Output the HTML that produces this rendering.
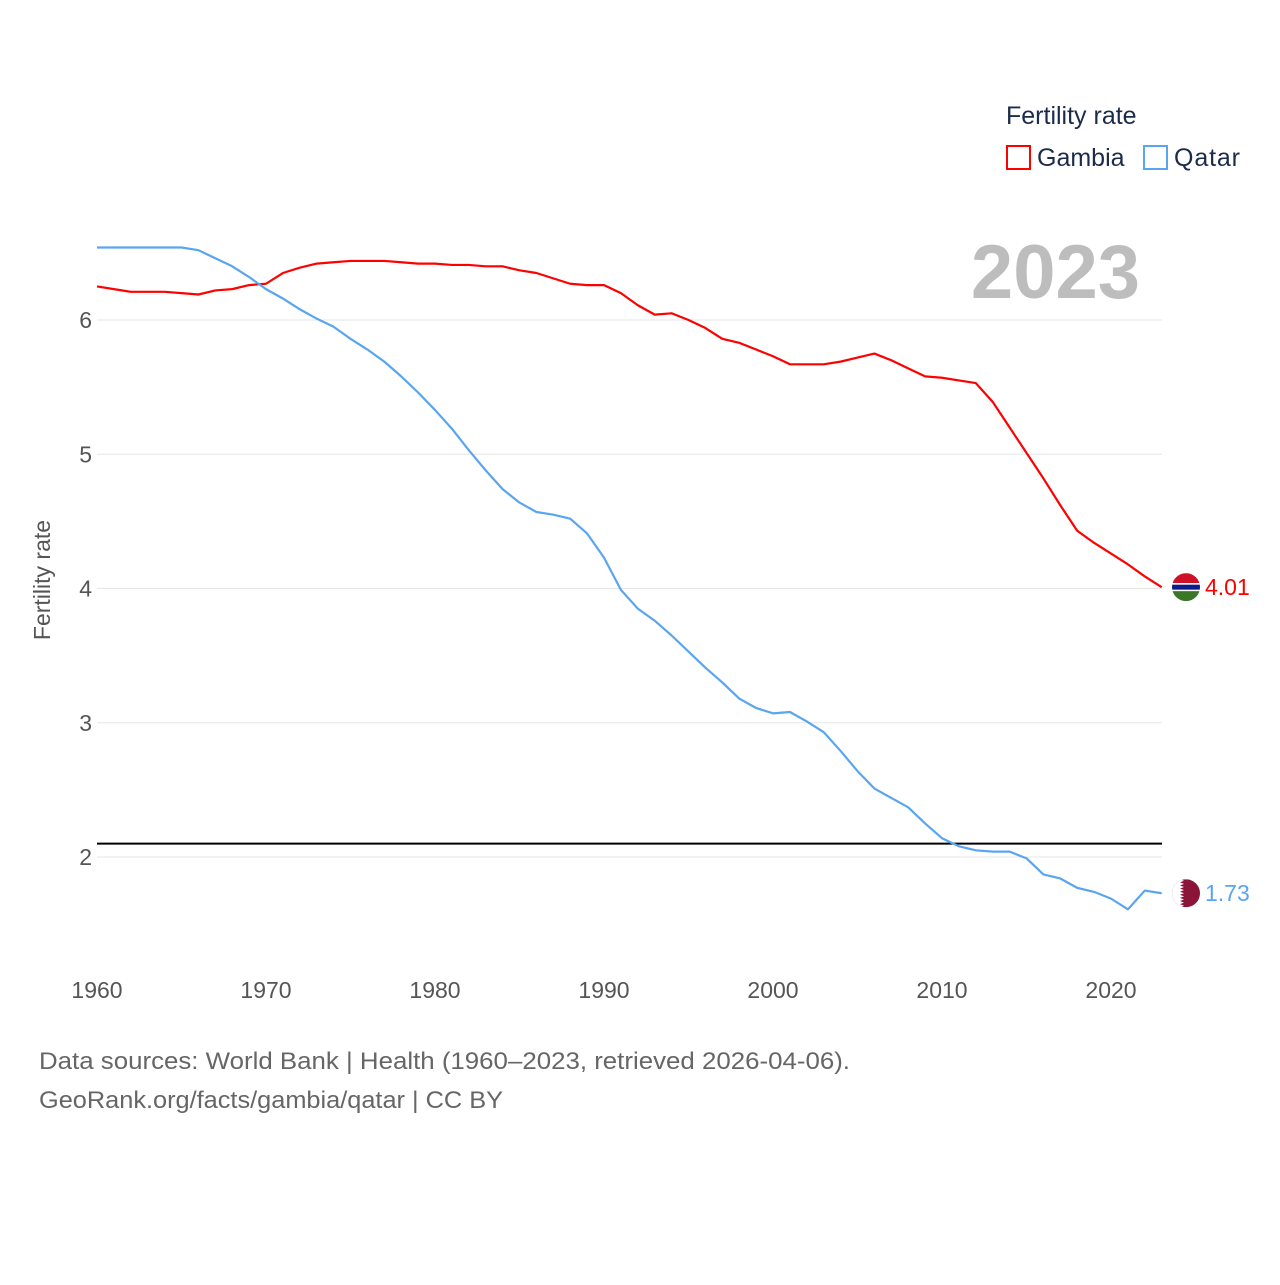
<!DOCTYPE html>
<html><head><meta charset="utf-8"><style>
body{margin:0;background:#fff;font-family:"Liberation Sans",sans-serif}
svg text{font-family:"Liberation Sans",sans-serif}
</style></head><body>
<svg id="chart" width="1280" height="1280" viewBox="0 0 1280 1280">
<g id="grid"></g><g id="axes"></g><g id="lines"></g>
<text x="1140" y="298" text-anchor="end" font-size="76" font-weight="bold" fill="#bdbdbd">2023</text>
<g>
<text x="1006" y="124" font-size="25" fill="#1c2b4a">Fertility rate</text>
<g><rect x="1007" y="146" width="23" height="23" fill="none" stroke="#ff0000" stroke-width="2"/><text x="1037" y="166" font-size="25" fill="#1c2b4a">Gambia</text></g>
<g><rect x="1144" y="146" width="23" height="23" fill="none" stroke="#5aa5ef" stroke-width="2"/><text x="1174" y="166" font-size="25" fill="#1c2b4a" textLength="66">Qatar</text></g>
</g>
<text transform="translate(50,580) rotate(-90)" text-anchor="middle" font-size="23" fill="#555">Fertility rate</text>
<text x="39" y="1069" font-size="24" fill="#666" textLength="811" lengthAdjust="spacingAndGlyphs">Data sources: World Bank | Health (1960–2023, retrieved 2026-04-06).</text>
<text x="39" y="1108" font-size="24" fill="#666" textLength="464" lengthAdjust="spacingAndGlyphs">GeoRank.org/facts/gambia/qatar | CC BY</text>
</svg>
<script>
const years=[];for(let y=1960;y<=2023;y++)years.push(y);
const gambia=[6.25,6.23,6.21,6.21,6.21,6.20,6.19,6.22,6.23,6.26,6.27,6.35,6.39,6.42,6.43,6.44,6.44,6.44,6.43,6.42,6.42,6.41,6.41,6.40,6.40,6.37,6.35,6.31,6.27,6.26,6.26,6.20,6.11,6.04,6.05,6.00,5.94,5.86,5.83,5.78,5.73,5.67,5.67,5.67,5.69,5.72,5.75,5.70,5.64,5.58,5.57,5.55,5.53,5.39,5.20,5.01,4.82,4.62,4.43,4.34,4.26,4.18,4.09,4.01];
const qatar=[6.54,6.54,6.54,6.54,6.54,6.54,6.52,6.46,6.40,6.32,6.23,6.16,6.08,6.01,5.95,5.86,5.78,5.69,5.58,5.46,5.33,5.19,5.03,4.88,4.74,4.64,4.57,4.55,4.52,4.41,4.23,3.99,3.85,3.76,3.65,3.53,3.41,3.30,3.18,3.11,3.07,3.08,3.01,2.93,2.79,2.64,2.51,2.44,2.37,2.25,2.14,2.08,2.05,2.04,2.04,1.99,1.87,1.84,1.77,1.74,1.69,1.61,1.75,1.73];
const yTicks=[2,3,4,5,6];
const xTicks=[1960,1970,1980,1990,2000,2010,2020];
const refLine=2.1;
const X=y=>97+(y-1960)*16.9;
const Y=v=>1125.5-v*134.25;
const NS="http://www.w3.org/2000/svg";
function mk(p,t,a){const e=document.createElementNS(NS,t);for(const k in a)e.setAttribute(k,a[k]);p.appendChild(e);return e;}
const grid=document.getElementById('grid'),axes=document.getElementById('axes'),lines=document.getElementById('lines');
yTicks.forEach(v=>{
 const l=mk(grid,'line',{x1:97,x2:1162,y1:Y(v),y2:Y(v),stroke:'#e6e6e6','stroke-width':1});
 
 
 const t=mk(axes,'text',{x:92,y:Y(v)+8,'text-anchor':'end','font-size':23,fill:'#555'});t.textContent=v;
 
 
});
xTicks.forEach(v=>{
 const t=mk(axes,'text',{x:X(v),y:998,'text-anchor':'middle','font-size':23,fill:'#555'});t.textContent=v;
 
 
});
const ref=mk(lines,'line',{x1:97,x2:1162,y1:Y(refLine),y2:Y(refLine),stroke:'#000','stroke-width':2});


function series(d,c,name){
 const p=mk(lines,'polyline',{points:d.map((v,i)=>X(years[i])+','+Y(v)).join(' '),fill:'none',stroke:c,'stroke-width':2.2,'stroke-linejoin':'round'});
 
 
}
series(gambia,'#ff0000','gambia');
series(qatar,'#5aa5ef','qatar');
const gl=gambia[gambia.length-1],ql=qatar[qatar.length-1];
const cx=1186;
let gy=Y(gl),qy=Y(ql);
const defs=mk(lines,'defs',{});
const cp1=mk(defs,'clipPath',{id:'cg'});mk(cp1,'circle',{cx:cx,cy:gy,r:14});
const cp2=mk(defs,'clipPath',{id:'cq'});mk(cp2,'circle',{cx:cx,cy:qy,r:14});
const gf=mk(lines,'g',{'clip-path':'url(#cg)'});


mk(gf,'rect',{x:cx-14,y:gy-14,width:28,height:10,fill:'#ce1126'});
mk(gf,'rect',{x:cx-14,y:gy-4,width:28,height:8,fill:'#fff'});
mk(gf,'rect',{x:cx-14,y:gy-2.5,width:28,height:5,fill:'#0c1c8c'});
mk(gf,'rect',{x:cx-14,y:gy+4,width:28,height:10,fill:'#3a7728'});
const qf=mk(lines,'g',{'clip-path':'url(#cq)'});


mk(qf,'rect',{x:cx-14,y:qy-14,width:28,height:28,fill:'#8a1538'});
let pts=`${cx-14},${qy-14} ${cx-6},${qy-14}`;for(let i=0;i<9;i++){const yy=qy-14+i*28/9;pts+=` ${cx-2},${yy+1.55} ${cx-6},${yy+3.1}`;}pts+=` ${cx-14},${qy+14}`;
mk(qf,'polygon',{points:pts,fill:'#fff'});
const gt=mk(lines,'text',{x:1205,y:gy+8,'font-size':23,fill:'#ff0000'});gt.textContent=gl.toFixed(2);


const qt=mk(lines,'text',{x:1205,y:qy+8,'font-size':23,fill:'#5aa5ef'});qt.textContent=ql.toFixed(2);


</script>
</body></html>
